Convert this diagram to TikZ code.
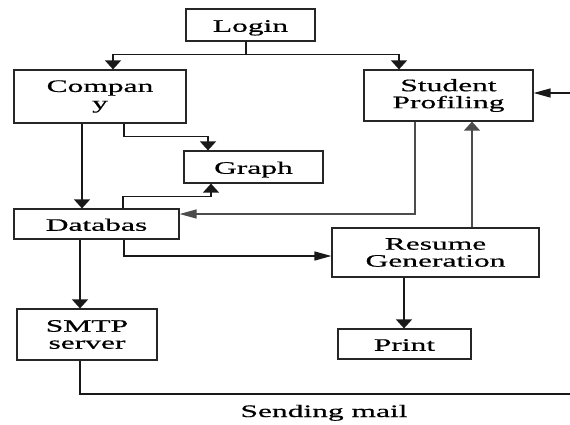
\documentclass[tikz,border=0pt]{standalone}
\usepackage{fontspec}
\setmainfont{Liberation Serif}[FakeStretch=1.8,FakeBold=0.6]
\usetikzlibrary{arrows.meta}
\begin{document}
\begin{tikzpicture}[x=1pt,y=-1pt,
  box/.style={draw=black!85, line width=1.2pt, rectangle, inner sep=0pt, align=center, font=\fontsize{17.5}{17}\selectfont},
  onebox/.style={box, text height=13.5pt, text depth=0pt},
  lbl/.style={inner sep=0pt, font=\fontsize{17.5}{17}\selectfont},
  conn/.style={line width=1.3pt, draw=black!90},
  vtip/.style={-{Triangle[length=9pt,width=16pt]}},
  htip/.style={-{Triangle[length=17pt,width=9pt]}}]
\useasboundingbox (0,0) rectangle (570,424);

\node[onebox, minimum width=129pt, minimum height=32pt] (login) at (250.5,25) {Login};
\node[box, minimum width=172pt, minimum height=53pt] (company) at (100,96.5) {Compan\\y};
\node[box, minimum width=169pt, minimum height=51pt] (student) at (448.5,95.5) {Student\\Profiling};
\node[onebox, minimum width=139pt, minimum height=32pt] (graph) at (253.5,167) {Graph};
\node[onebox, minimum width=165pt, minimum height=30pt] (db) at (96.5,224) {Databas};
\node[box, minimum width=207pt, minimum height=49pt] (resume) at (435.5,252.5) {Resume\\Generation};
\node[onebox, minimum width=133pt, minimum height=30pt] (print) at (404.5,344) {Print};
\node[box, minimum width=140pt, minimum height=51pt] (smtp) at (87,334.5) {SMTP\\server};
\node[lbl, anchor=base] (send) at (324,417) {Sending mail};
\coordinate (loopcorner) at (590,394);

% Login to Company and Student
\draw[conn,vtip] ([xshift=-4.5pt]login.south) -- ++(0,13) -| ([xshift=13pt]company.north);
\draw[conn,vtip] ([xshift=-4.5pt]login.south) -- ++(0,13) -| ([xshift=-49.5pt]student.north);
% Company to Graph
\draw[conn,vtip] ([xshift=24pt]company.south) -- ++(0,13) -| ([xshift=-45.5pt]graph.north);
% Company to Database
\draw[conn,vtip] ([xshift=-18pt]company.south) -- ([xshift=-18pt]company.south |- db.north);
% Database to Graph
\draw[conn,vtip] ([xshift=26.5pt]db.north) -- ++(0,-12) -| ([xshift=-42.5pt]graph.south);
% Student to Database
\draw[conn,htip,draw=black!70] ([xshift=-33.5pt]student.south) |- ([yshift=10pt]db.east);
% Resume to Student
\draw[conn,vtip,draw=black!70] ([xshift=36.5pt]resume.north) -- ([xshift=36.5pt]resume.north |- student.south);
% Database to Resume
\draw[conn,htip] ([xshift=27.5pt]db.south) |- ([yshift=-3.5pt]resume.west);
% Resume to Print
\draw[conn,vtip] ([xshift=-31.5pt]resume.south) -- ([xshift=-31.5pt]resume.south |- print.north);
% Database to SMTP
\draw[conn,vtip] ([xshift=-16.5pt]db.south) -- ([xshift=-16.5pt]db.south |- smtp.north);
% SMTP loop back to Student
\begin{scope}
\clip (0,0) rectangle (570,424);
\draw[conn,htip] ([xshift=-7pt]smtp.south) |- (loopcorner) |- ([yshift=2.5pt]student.east);
\end{scope}
\end{tikzpicture}
\end{document}
